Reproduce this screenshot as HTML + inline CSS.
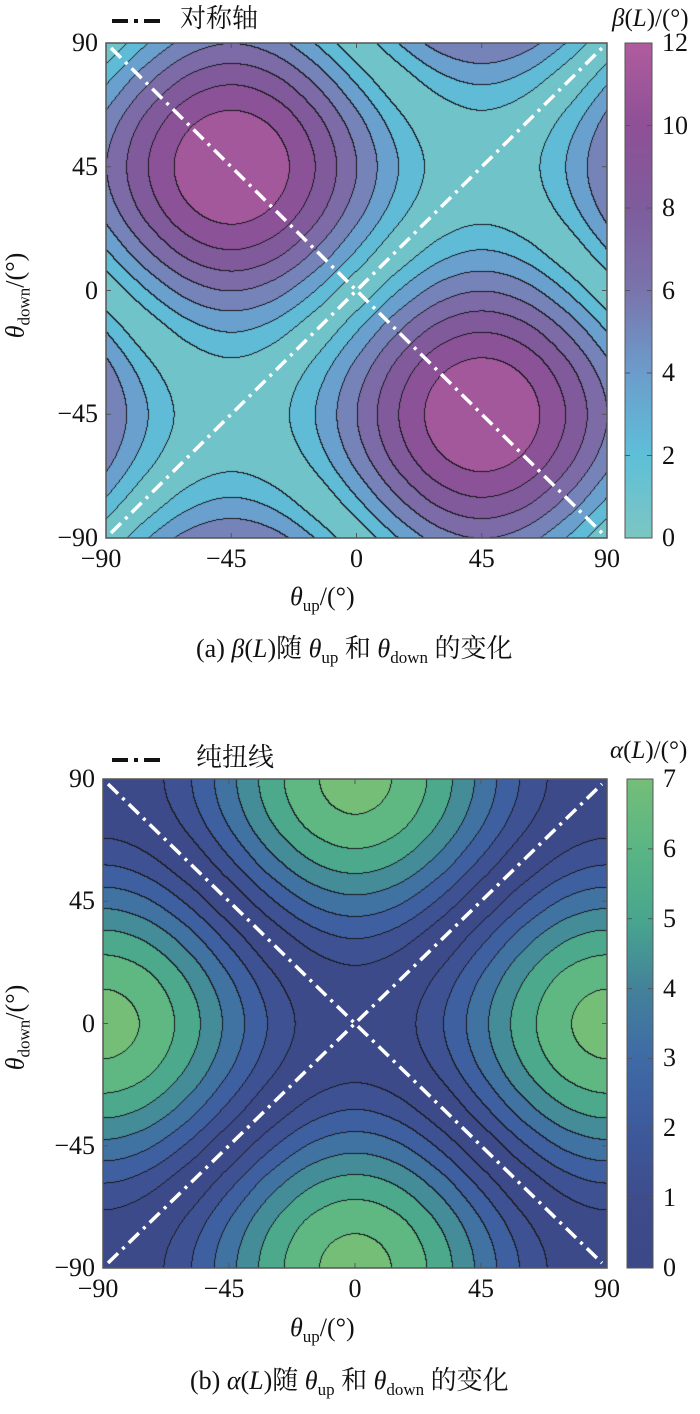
<!DOCTYPE html>
<html><head><meta charset="utf-8">
<style>
html,body{margin:0;padding:0;background:#fff;}
#root{position:relative;width:700px;height:1414px;overflow:hidden;font-family:"Liberation Serif","Noto Serif CJK SC",serif;color:#111;}
.t{position:absolute;font-family:"Liberation Serif","Noto Serif CJK SC",serif;font-size:26px;line-height:26px;white-space:nowrap;}
.yl{text-align:right;width:60px;}
.xl{text-align:center;width:60px;}
canvas{position:absolute;}
svg{position:absolute;left:0;top:0;}
i{font-style:italic;}
sub{font-size:17px;vertical-align:-6px;}
.cjk{font-family:"Liberation Serif","Noto Serif CJK SC","Noto Sans CJK SC",serif;}
</style></head>
<body>
<div id="root">
<canvas id="ca" width="501" height="495" style="left:106px;top:43px"></canvas>
<canvas id="cb" width="504" height="489" style="left:103px;top:779px"></canvas>
<svg id="ov" width="700" height="1414"></svg>

<div class="t cjk" style="left:180px;top:6px">对称轴</div>
<div class="t" style="left:612px;top:6px;font-size:25px"><i>β</i>(<i>L</i>)/(°)</div>
<div class="t" style="left:290px;top:584px"><i>θ</i><sub>up</sub>/(°)</div>
<div class="t cjk" style="left:196px;top:636px">(a) <i>β</i>(<i>L</i>)随 <i>θ</i><sub>up</sub> 和 <i>θ</i><sub>down</sub> 的变化</div>
<div class="t" style="left:-35px;top:278px;transform:rotate(-90deg);width:110px;text-align:center"><i>θ</i><sub>down</sub>/(°)</div>

<div class="t cjk" style="left:196px;top:745px">纯扭线</div>
<div class="t" style="left:610px;top:738px;font-size:25px"><i>α</i>(<i>L</i>)/(°)</div>
<div class="t" style="left:290px;top:1315px"><i>θ</i><sub>up</sub>/(°)</div>
<div class="t cjk" style="left:190px;top:1368px">(b) <i>α</i>(<i>L</i>)随 <i>θ</i><sub>up</sub> 和 <i>θ</i><sub>down</sub> 的变化</div>
<div class="t" style="left:-35px;top:1010px;transform:rotate(-90deg);width:110px;text-align:center"><i>θ</i><sub>down</sub>/(°)</div>
</div>
<script>
// grid axes (degrees)
const thetaUp = [-90,-75,-60,-45,-30,-15,0,15,30,45,60,75,90];
const thetaDown = [90,75,60,45,30,15,0,-15,-30,-45,-60,-75,-90];
const axisTicks = [-90,-45,0,45,90];
const betaTicks = [0,2,4,6,8,10,12];
const alphaTicks = [0,1,2,3,4,5,6,7];
const betaLevelStep = 1.5;
const alphaLevelStep = 0.95;
// signed beta grid (plotted value = magnitude): rows = thetaDown, cols = thetaUp
const betaGrid = [
[0,-3,-5.2,-6,-5.2,-3,0,3,5.2,6,5.2,3,0],
[-3,-6,-8.2,-9,-8.2,-6,-3,0,2.2,3,2.2,0,-3],
[-5.2,-8.2,-10.4,-11.2,-10.4,-8.2,-5.2,-2.2,0,0.8,0,-2.2,-5.2],
[-6,-9,-11.2,-12,-11.2,-9,-6,-3,-0.8,0,-0.8,-3,-6],
[-5.2,-8.2,-10.4,-11.2,-10.4,-8.2,-5.2,-2.2,0,0.8,0,-2.2,-5.2],
[-3,-6,-8.2,-9,-8.2,-6,-3,0,2.2,3,2.2,0,-3],
[0,-3,-5.2,-6,-5.2,-3,0,3,5.2,6,5.2,3,0],
[3,0,-2.2,-3,-2.2,0,3,6,8.2,9,8.2,6,3],
[5.2,2.2,0,-0.8,0,2.2,5.2,8.2,10.4,11.2,10.4,8.2,5.2],
[6,3,0.8,0,0.8,3,6,9,11.2,12,11.2,9,6],
[5.2,2.2,0,-0.8,0,2.2,5.2,8.2,10.4,11.2,10.4,8.2,5.2],
[3,0,-2.2,-3,-2.2,0,3,6,8.2,9,8.2,6,3],
[0,-3,-5.2,-6,-5.2,-3,0,3,5.2,6,5.2,3,0]];
// signed alpha grid (plotted value = magnitude)
const alphaGrid = [
[0,0.47,1.75,3.5,5.25,6.53,7,6.53,5.25,3.5,1.75,0.47,0],
[-0.47,0,1.28,3.03,4.78,6.06,6.53,6.06,4.78,3.03,1.28,0,-0.47],
[-1.75,-1.28,0,1.75,3.5,4.78,5.25,4.78,3.5,1.75,0,-1.28,-1.75],
[-3.5,-3.03,-1.75,0,1.75,3.03,3.5,3.03,1.75,0,-1.75,-3.03,-3.5],
[-5.25,-4.78,-3.5,-1.75,0,1.28,1.75,1.28,0,-1.75,-3.5,-4.78,-5.25],
[-6.53,-6.06,-4.78,-3.03,-1.28,0,0.47,0,-1.28,-3.03,-4.78,-6.06,-6.53],
[-7,-6.53,-5.25,-3.5,-1.75,-0.47,0,-0.47,-1.75,-3.5,-5.25,-6.53,-7],
[-6.53,-6.06,-4.78,-3.03,-1.28,0,0.47,0,-1.28,-3.03,-4.78,-6.06,-6.53],
[-5.25,-4.78,-3.5,-1.75,0,1.28,1.75,1.28,0,-1.75,-3.5,-4.78,-5.25],
[-3.5,-3.03,-1.75,0,1.75,3.03,3.5,3.03,1.75,0,-1.75,-3.03,-3.5],
[-1.75,-1.28,0,1.75,3.5,4.78,5.25,4.78,3.5,1.75,0,-1.28,-1.75],
[-0.47,0,1.28,3.03,4.78,6.06,6.53,6.06,4.78,3.03,1.28,0,-0.47],
[0,0.47,1.75,3.5,5.25,6.53,7,6.53,5.25,3.5,1.75,0.47,0]];

const betaMap=[[0,'#7cc6c2'],[2,'#5ebfd8'],[4,'#6c9ccc'],[6,'#7a74ac'],[8,'#7e5c9c'],[10,'#8e5096'],[12,'#b05c9e']];
const alphaMap=[[0,'#3c4887'],[1,'#3e4c8c'],[2,'#3d5a9c'],[3,'#3f6aa6'],[4,'#43829a'],[5,'#48a68e'],[6,'#5ab584'],[7,'#74be78']];

function hex(c){return [1,3,5].map(i=>parseInt(c.substr(i,2),16));}
function cmap(m,v){
  if(v<=m[0][0])return hex(m[0][1]);
  for(let i=1;i<m.length;i++){if(v<=m[i][0]){const t=(v-m[i-1][0])/(m[i][0]-m[i-1][0]);const a=hex(m[i-1][1]),b=hex(m[i][1]);return a.map((x,k)=>x+(b[k]-x)*t);}}
  return hex(m[m.length-1][1]);
}
function cr(p0,p1,p2,p3,t){return 0.5*(2*p1+(-p0+p2)*t+(2*p0-5*p1+4*p2-p3)*t*t+(-p0+3*p1-3*p2+p3)*t*t*t);}
function sample(g,u,d){
  const gx=(u-thetaUp[0])/(thetaUp[1]-thetaUp[0]);
  const gy=(d-thetaDown[0])/(thetaDown[1]-thetaDown[0]);
  const n=g.length-1;
  let ix=Math.min(Math.floor(gx),n-1),iy=Math.min(Math.floor(gy),n-1);
  const tx=gx-ix,ty=gy-iy;
  // periodic extension (180° period) beyond the edges
  const G=(r,c)=>g[((r%n)+n)%n][((c%n)+n)%n];
  const rows=[];
  for(let r=-1;r<=2;r++)rows.push(cr(G(iy+r,ix-1),G(iy+r,ix),G(iy+r,ix+1),G(iy+r,ix+2),tx));
  return Math.abs(cr(rows[0],rows[1],rows[2],rows[3],ty));
}
function drawContour(id,g,step,m,vmax){
  const c=document.getElementById(id),ctx=c.getContext('2d'),W=c.width,H=c.height;
  const img=ctx.createImageData(W,H),band=new Int16Array(W*H);
  for(let y=0;y<H;y++)for(let x=0;x<W;x++){
    const u=-90+180*(x+0.5)/W,d=90-180*(y+0.5)/H;
    band[y*W+x]=Math.floor(sample(g,u,d)/step);
  }
  for(let y=0;y<H;y++)for(let x=0;x<W;x++){
    const i=y*W+x,b=band[i];
    let col;
    if((x>0&&band[i-1]!==b)||(y>0&&band[i-W]!==b))col=[25,25,30];
    else col=cmap(m,Math.min(vmax,(b+0.5)*step));
    img.data[i*4]=col[0];img.data[i*4+1]=col[1];img.data[i*4+2]=col[2];img.data[i*4+3]=255;
  }
  ctx.putImageData(img,0,0);
}
drawContour('ca',betaGrid,betaLevelStep,betaMap,12);
drawContour('cb',alphaGrid,alphaLevelStep,alphaMap,7);

const NS='http://www.w3.org/2000/svg',ov=document.getElementById('ov'),root=document.getElementById('root');
function el(tag,at){const e=document.createElementNS(NS,tag);for(const k in at)e.setAttribute(k,at[k]);ov.appendChild(e);return e;}
let gid=0;
function panel(P){
  const sx=v=>P.x0+(v+90)/180*P.w, sy=v=>P.y0+(90-v)/180*P.h;
  P.lines.forEach((L,k)=>{
    const e=el('line',{x1:sx(L[0])+(L[0]<0?5:-5),y1:sy(L[1])+(L[1]>0?5:-5),x2:sx(L[2])+(L[2]<0?5:-5),y2:sy(L[3])+(L[3]>0?5:-5),stroke:'#fff','stroke-width':3.5,'stroke-dasharray':'14 6 3 6'});
    
    
  });
  const fr=el('rect',{x:P.x0,y:P.y0,width:P.w,height:P.h,fill:'none',stroke:'#555','stroke-width':1.5});
  
  
  axisTicks.forEach(v=>{
    el('line',{x1:sx(v),y1:P.y0+P.h,x2:sx(v),y2:P.y0+P.h-5,stroke:'#555'});
    el('line',{x1:sx(v),y1:P.y0,x2:sx(v),y2:P.y0+5,stroke:'#555'});
    el('line',{x1:P.x0,y1:sy(v),x2:P.x0+5,y2:sy(v),stroke:'#555'});
    el('line',{x1:P.x0+P.w,y1:sy(v),x2:P.x0+P.w-5,y2:sy(v),stroke:'#555'});
    const lab=(v<0?'−':'')+Math.abs(v);
    const a=document.createElement('div');a.className='t xl';a.textContent=lab;
    a.style.left=(sx(v)-30-(v<0?5:0))+'px';a.style.top=(P.y0+P.h+8)+'px';
    
    
    root.appendChild(a);
    const b=document.createElement('div');b.className='t yl';b.textContent=lab;
    b.style.left=(P.x0-68)+'px';b.style.top=(sy(v)-13)+'px';
    
    
    root.appendChild(b);
  });
  const id='g'+(gid++);
  const defs=el('defs',{});const lg=document.createElementNS(NS,'linearGradient');
  lg.setAttribute('id',id);lg.setAttribute('x1','0');lg.setAttribute('y1','1');lg.setAttribute('x2','0');lg.setAttribute('y2','0');
  P.map.forEach(s=>{const st=document.createElementNS(NS,'stop');st.setAttribute('offset',s[0]/P.vmax);st.setAttribute('stop-color',s[1]);lg.appendChild(st);});
  defs.appendChild(lg);
  const cb=el('rect',{x:P.cbx,y:P.y0,width:P.cbw,height:P.h,fill:'url(#'+id+')',stroke:'#555','stroke-width':1});
  
  
  const cy=v=>P.y0+P.h-v/P.vmax*P.h;
  P.ticks.forEach(v=>{
    el('line',{x1:P.cbx,y1:cy(v),x2:P.cbx+5,y2:cy(v),stroke:'#555'});
    el('line',{x1:P.cbx+P.cbw,y1:cy(v),x2:P.cbx+P.cbw-5,y2:cy(v),stroke:'#555'});
    const t=document.createElement('div');t.className='t';t.textContent=v;
    t.style.left=(P.cbx+P.cbw+10)+'px';t.style.top=(cy(v)-13)+'px';
    
    
    root.appendChild(t);
  });
  const lgl=el('line',{x1:P.legx,y1:P.legy,x2:P.legx+52,y2:P.legy,stroke:'#111','stroke-width':4,'stroke-dasharray':'16 6 4 6'});
  
  
}
panel({x0:106,y0:43,w:501,h:495,cbx:625,cbw:27,vmax:12,map:betaMap,ticks:betaTicks,lines:[[-90,90,90,-90],[-90,-90,90,90]],legx:112,legy:21});
panel({x0:103,y0:779,w:504,h:489,cbx:627,cbw:26,vmax:7,map:alphaMap,ticks:alphaTicks,lines:[[-90,90,90,-90],[-90,-90,90,90]],legx:112,legy:760});
</script>
</body></html>
